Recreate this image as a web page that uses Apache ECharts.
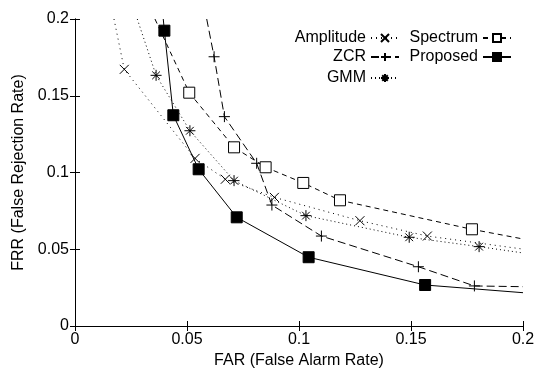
<!DOCTYPE html>
<html>
<head>
<meta charset="utf-8">
<script src="https://cdn.jsdelivr.net/npm/echarts@6/dist/echarts.min.js"></script>
<style>
  html, body { margin: 0; padding: 0; background: #fff; }
  #chart { width: 548px; height: 374px; }
</style>
</head>
<body>
<div id="chart"></div>
<script>
// first and last points of each curve are where the line leaves the plot (no marker)
var amplitudeFAR = [0.0174, 0.0220, 0.0536, 0.0671, 0.0890, 0.1272, 0.1573, 0.2];
var amplitudeFRR = [0.2, 0.1672, 0.1092, 0.0956, 0.0838, 0.0686, 0.0586, 0.0501];
var zcrFAR = [0.0588, 0.0621, 0.0667, 0.0811, 0.0879, 0.1100, 0.1533, 0.1783, 0.2];
var zcrFRR = [0.2, 0.1754, 0.1364, 0.1060, 0.0788, 0.0586, 0.0386, 0.0261, 0.0256];
var gmmFAR = [0.0278, 0.0362, 0.0513, 0.0710, 0.1031, 0.1492, 0.1804, 0.2];
var gmmFRR = [0.2, 0.1633, 0.1272, 0.0947, 0.0719, 0.0578, 0.0517, 0.0476];
var spectrumFAR = [0.0357, 0.0510, 0.0710, 0.0851, 0.1019, 0.1183, 0.1772, 0.2];
var spectrumFRR = [0.2, 0.1520, 0.1164, 0.1034, 0.0932, 0.0819, 0.0630, 0.0567];
var proposedFAR = [0.0394, 0.0399, 0.0439, 0.0552, 0.0722, 0.1043, 0.1563, 0.2];
var proposedFRR = [0.2, 0.1924, 0.1373, 0.1021, 0.0708, 0.0448, 0.0267, 0.0217];

var axisTicks = [0, 0.05, 0.1, 0.15, 0.2];

var FONT = 'Liberation Sans';
var CROSS = 'path://M0,0L10,10M10,0L0,10';
var PLUS = 'path://M5,0L5,10M0,5L10,5';
var STAR = 'path://M5,0L5,10M0,5L10,5M1.5,1.5L8.5,8.5M8.5,1.5L1.5,8.5';

function points(xs, ys) {
  return xs.map(function (x, i) {
    var p = { value: [x, ys[i]] };
    if (i == 0 || i == xs.length - 1) p.symbol = 'none';
    return p;
  });
}

function curve(name, xs, ys, symbol, size, dash, fill) {
  return {
    name: name,
    type: 'line',
    data: points(xs, ys),
    symbol: symbol,
    symbolSize: size,
    showAllSymbol: true,
    clip: true,
    lineStyle: { color: '#000', width: 1, type: dash },
    itemStyle: { color: fill, borderColor: '#000', borderWidth: 1 },
    emphasis: { disabled: true },
    z: name == 'Proposed' ? 3 : 2
  };
}

function legendAt(name, right, top) {
  return {
    data: [name],
    right: right,
    top: top,
    align: 'right',
    itemWidth: 28,
    itemHeight: 10,
    padding: 0,
    selectedMode: false,
    textStyle: { color: '#000', fontSize: 16, fontFamily: FONT }
  };
}

var myChart = echarts.init(document.getElementById('chart'));
var tickStyle = { inside: true, length: 5, lineStyle: { color: '#000' } };
var lineStyle = { lineStyle: { color: '#000', width: 1 } };
var labelStyle = { color: '#000', fontSize: 16, fontFamily: FONT };

var option = {
  animation: false,
  grid: { left: 75, right: 25, top: 19, bottom: 48 },
  legend: [
    legendAt('Amplitude', 148, 30),
    legendAt('ZCR', 148, 49),
    legendAt('GMM', 148, 70),
    legendAt('Spectrum', 36, 30),
    legendAt('Proposed', 36, 49)
  ],
  xAxis: [{
    type: 'value', min: 0, max: 0.2, interval: 0.05,
    name: 'FAR (False Alarm Rate)', nameLocation: 'middle', nameGap: 23,
    nameTextStyle: labelStyle,
    axisLine: lineStyle, axisTick: tickStyle,
    axisLabel: {
      color: '#000', fontSize: 16, fontFamily: FONT, margin: 6,
      formatter: function (v) { return axisTicks.indexOf(v) >= 0 ? String(v) : ''; }
    },
    splitLine: { show: false }
  }, {
    type: 'value', min: 0, max: 0.2, interval: 0.05, position: 'top',
    axisLine: lineStyle, axisTick: tickStyle,
    axisLabel: { show: false }, splitLine: { show: false }
  }],
  yAxis: [{
    type: 'value', min: 0, max: 0.2, interval: 0.05,
    name: 'FRR (False Rejection Rate)', nameLocation: 'middle', nameGap: 48,
    nameTextStyle: labelStyle,
    axisLine: lineStyle, axisTick: tickStyle,
    axisLabel: { color: '#000', fontSize: 16, fontFamily: FONT, margin: 6 },
    splitLine: { show: false }
  }, {
    type: 'value', min: 0, max: 0.2, interval: 0.05, position: 'right',
    axisLine: lineStyle, axisTick: tickStyle,
    axisLabel: { show: false }, splitLine: { show: false }
  }],
  series: [
    curve('Amplitude', amplitudeFAR, amplitudeFRR, CROSS, 9, [1, 4], 'none'),
    curve('ZCR', zcrFAR, zcrFRR, PLUS, 11, [8, 4], 'none'),
    curve('GMM', gmmFAR, gmmFRR, STAR, 11, [1, 3], 'none'),
    curve('Spectrum', spectrumFAR, spectrumFRR, 'rect', 11, [5, 4], '#fff'),
    curve('Proposed', proposedFAR, proposedFRR, 'rect', 11, 'solid', '#000')
  ]
};
myChart.setOption(option);
</script>
</body>
</html>
